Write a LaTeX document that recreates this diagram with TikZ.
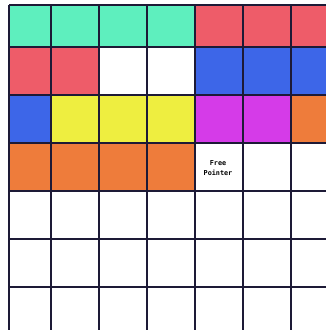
\documentclass[tikz,border=0pt]{standalone}
\usepackage{fontspec}
\setmonofont{DejaVu Sans Mono}
\usepackage{tikz}
\usetikzlibrary{positioning}
\usepackage{xcolor}
\definecolor{blkteal}{HTML}{5EEFBE}
\definecolor{blkred}{HTML}{EE5C69}
\definecolor{blkblue}{HTML}{3D66E8}
\definecolor{blkyellow}{HTML}{EEEE40}
\definecolor{blkmagenta}{HTML}{D53BE8}
\definecolor{blkorange}{HTML}{EE7C3B}
\definecolor{gridline}{HTML}{1D1A36}

\begin{document}
\begin{tikzpicture}[x=1pt, y=-1pt]
  \useasboundingbox (0,0) rectangle (326,330);
  \clip (0,0) rectangle (326,330);
  % used blocks: column/row/colour
  \foreach \c/\r/\col in {0/0/blkteal, 1/0/blkteal, 2/0/blkteal, 3/0/blkteal,
                          4/0/blkred, 5/0/blkred, 6/0/blkred,
                          0/1/blkred, 1/1/blkred, 4/1/blkblue, 5/1/blkblue, 6/1/blkblue,
                          0/2/blkblue, 1/2/blkyellow, 2/2/blkyellow, 3/2/blkyellow,
                          4/2/blkmagenta, 5/2/blkmagenta, 6/2/blkorange,
                          0/3/blkorange, 1/3/blkorange, 2/3/blkorange, 3/3/blkorange}
    \fill[\col] ({max(9,3+48*\c)}, {max(5,-1+48*\r)}) rectangle ({3+48*(\c+1)}, {-1+48*(\r+1)});
  % grid
  \foreach \c in {0,...,6}
    \draw[gridline, line width=2pt] ({max(9,3+48*\c)}, 5) -- ({max(9,3+48*\c)}, 330);
  \foreach \r in {0,...,6}
    \draw[gridline, line width=2pt] (9, {max(5,-1+48*\r)}) -- (326, {max(5,-1+48*\r)});
  \node[font=\ttfamily\bfseries\fontsize{6.8}{10.5}\selectfont, align=center, inner sep=0pt]
    (freeptr) at (218, 168) {Free\\Pointer};
\end{tikzpicture}
\end{document}
